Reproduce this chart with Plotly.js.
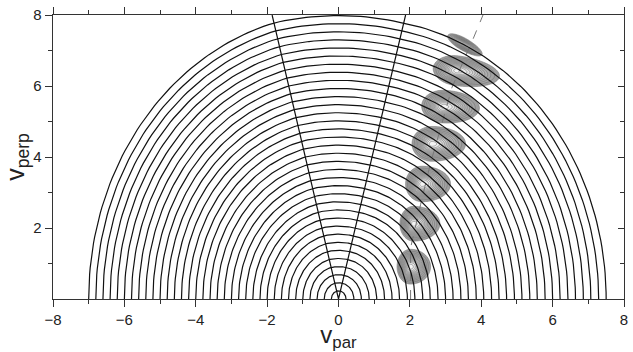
<!DOCTYPE html>
<html><head><meta charset="utf-8">
<script src="https://cdn.plot.ly/plotly-3.0.1.min.js"></script>
<style>html,body{margin:0;padding:0;background:#fff}#chart{width:633px;height:352px}</style>
</head><body><div id="chart"></div>
<script>
// ---- diffusion curves ----
// left ends (v_par < 0) of each curve and right ends (v_par > 0)
const leftSemiAxis = [0.2,0.4,0.6,0.8,1.0,1.2,1.4,1.6,1.8,2.0,2.2,2.4,2.6,2.8,3.0,3.2,3.4,3.6,3.8,4.0,4.2,4.4,4.6,4.8,5.0,5.2,5.4,5.6,5.8,6.0,6.2,6.4,6.6,6.8,7.0];
const rightEnd = [0.21,0.43,0.64,0.86,1.07,1.29,1.5,1.71,1.93,2.14,2.36,2.57,2.79,3.0,3.21,3.43,3.64,3.86,4.07,4.29,4.5,4.71,4.93,5.14,5.36,5.57,5.79,6.0,6.21,6.43,6.64,6.86,7.07,7.29,7.5];
const verticalStretch = 1.15;
const coneTopPar = [-1.86, 1.88];
const coneTopPerp = [8, 8];

// ---- distribution blobs ----
const blobPeakPar  = [2.02, 2.10, 2.34, 2.62, 2.95, 3.32, 3.50];
const blobPeakPerp = [0.91, 2.12, 3.24, 4.37, 5.42, 6.43, 7.18];
const blobLeft     = [0.38, 0.38, 0.46, 0.56, 0.62, 0.67, 0.50];
const blobRight    = [0.56, 0.74, 0.80, 0.94, 1.00, 1.20, 0.60];
const blobHalfH    = [0.49, 0.49, 0.50, 0.49, 0.46, 0.42, 0.17];
const blobTiltDeg  = [0, 0, 0, 0, -3, -8, -30];

// ---- dashed locus ----
const dashPar  = [2.02, 2.02, 2.30, 2.58, 2.90, 3.18, 3.74, 4.05];
const dashPerp = [0.00, 1.44, 2.66, 3.83, 4.95, 5.96, 7.25, 8.00];

const slope = -coneTopPar[0] / coneTopPerp[0];
const slopeR = coneTopPar[1] / coneTopPerp[1];
const q = verticalStretch;

const cx = [], cy = [];
for (let k = 0; k < leftSemiAxis.length; k++) {
  const a = leftSemiAxis[k], b = a * q;
  const tL = Math.PI - Math.atan(a / (slope * b));
  const N = 60;
  for (let i = 0; i <= N; i++) {
    const t = Math.PI + (tL - Math.PI) * i / N;
    cx.push(a * Math.cos(t)); cy.push(b * Math.sin(t));
  }
  const xL = a * Math.cos(tL), yL = b * Math.sin(tL);
  const r = Math.hypot(xL, yL);
  const pL = Math.atan2(yL, xL), pR = Math.PI / 2 - Math.atan(slopeR);
  for (let i = 1; i <= 24; i++) {
    const p = pL + (pR - pL) * i / 24;
    cx.push(r * Math.cos(p)); cy.push(r * Math.sin(p));
  }
  // right part: ellipse with same stretch, shifted so it joins the cone point
  const x0 = r * Math.cos(pR), y0 = r * Math.sin(pR);
  const R = rightEnd[k];
  const c = (R * R - x0 * x0 - (y0 / q) ** 2) / (2 * (R - x0));
  const A = R - c, B = A * q;
  const t0 = Math.atan2(y0 / B, (x0 - c) / A);
  for (let i = 1; i <= N; i++) {
    const t = t0 * (1 - i / N);
    cx.push(c + A * Math.cos(t)); cy.push(B * Math.sin(t));
  }
  cx.push(null); cy.push(null);
}

// contour grid
const gx = [], gy = [];
for (let x = 1.2; x <= 5.0001; x += 0.02) gx.push(+x.toFixed(3));
for (let y = 0; y <= 8.0001; y += 0.02) gy.push(+y.toFixed(3));
const z = gy.map(y => gx.map(x => {
  let m = 0;
  for (let i = 0; i < blobPeakPar.length; i++) {
    const th = blobTiltDeg[i] * Math.PI / 180;
    const dx = x - blobPeakPar[i], dy = y - blobPeakPerp[i];
    const uu = dx * Math.cos(th) + dy * Math.sin(th);
    const vv = -dx * Math.sin(th) + dy * Math.cos(th);
    const sx = (uu < 0 ? blobLeft[i] : blobRight[i]) / 2.06;
    const sy = blobHalfH[i] / 2.06;
    const g = Math.exp(-0.5 * ((uu / sx) ** 2 + (vv / sy) ** 2));
    if (g > m) m = g;
  }
  return m;
}));

const nc = 13;
const traces = [
  {x: dashPar, y: dashPerp, type: 'scatter', mode: 'lines',
   line: {color: '#777', width: 1, dash: 'dash'}, hoverinfo: 'skip'},
  {x: gx, y: gy, z: z, type: 'contour', showscale: false, hoverinfo: 'skip',
   autocontour: false,
   contours: {start: 0.12, end: 0.965, size: 0.07, coloring: 'fill'},
   colorscale: [[0, 'rgba(255,255,255,0)'], [0.5 / nc, 'rgba(255,255,255,0)'], [1 / nc, '#9e9e9e'], [0.6, '#c6c6c6'], [1, '#f4f4f4']],
   line: {color: '#6c6c6c', width: 0.55, smoothing: 1}},
  {x: cx, y: cy, type: 'scatter', mode: 'lines', line: {color: '#111', width: 1.2}, hoverinfo: 'skip', connectgaps: false},
  {x: [coneTopPar[0], 0, coneTopPar[1]], y: [coneTopPerp[0], 0, coneTopPerp[1]], type: 'scatter', mode: 'lines',
   line: {color: '#111', width: 1.2}, hoverinfo: 'skip'},
  {x: [0], y: [0], yaxis: 'y2', type: 'scatter', mode: 'markers', marker: {opacity: 0}, hoverinfo: 'skip'}
];

const font = {family: 'Liberation Sans, Arial, sans-serif', size: 15, color: '#222'};
const layout = {
  width: 633, height: 352,
  margin: {l: 53, r: 9, t: 15, b: 53},
  paper_bgcolor: '#fff', plot_bgcolor: '#fff',
  showlegend: false, font: font,
  xaxis: {range: [-8, 8], tickvals: [-8,-6,-4,-2,0,2,4,6,8], ticktext: ['\u22128','\u22126','\u22124','\u22122','0','2','4','6','8'],
    ticks: 'outside', ticklen: 7, tickwidth: 1, tickcolor: '#333',
    minor: {dtick: 1, ticks: 'outside', ticklen: 4, tickcolor: '#333'},
    showline: true, linecolor: '#333', linewidth: 1.3, mirror: 'ticks', showgrid: false, zeroline: false,
    title: {text: 'v<sub>par</sub>', font: {family: 'Liberation Sans, Arial, sans-serif', size: 24, color: '#222'}, standoff: 4}},
  yaxis: {range: [0, 8], tickvals: [2, 4, 6, 8], ticks: 'outside', ticklen: 7, tickwidth: 1, tickcolor: '#333',
    minor: {tickvals: [1, 3, 5, 7], ticks: 'outside', ticklen: 4, tickcolor: '#333'},
    showline: true, linecolor: '#333', linewidth: 1.3, mirror: true, showgrid: false, zeroline: false,
    title: {text: 'v<sub>perp</sub>', font: {family: 'Liberation Sans, Arial, sans-serif', size: 25, color: '#222'}, standoff: 0}},
  yaxis2: {range: [0, 8], overlaying: 'y', side: 'right', tickvals: [2, 4, 6, 8], showticklabels: false,
    ticks: 'inside', ticklen: 6, tickcolor: '#333', minor: {tickvals: [1, 3, 5, 7], ticks: 'inside', ticklen: 4, tickcolor: '#333'},
    showline: false, showgrid: false, zeroline: false}
};
Plotly.newPlot('chart', traces, layout, {staticPlot: true, displayModeBar: false});
</script></body></html>
